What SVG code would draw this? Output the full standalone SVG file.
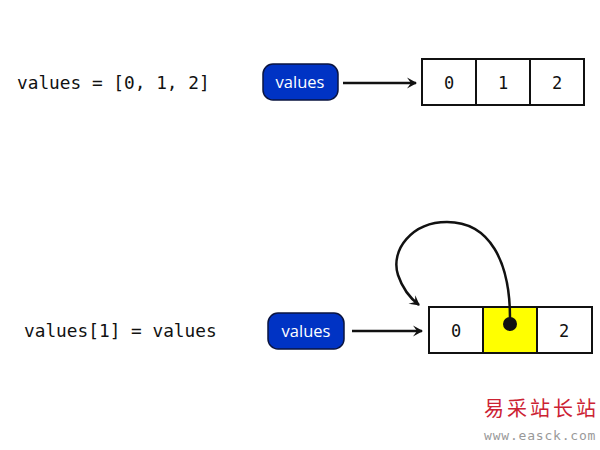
<svg xmlns="http://www.w3.org/2000/svg" width="600" height="450" viewBox="0 0 600 450">
<defs>
<marker id="ah" viewBox="0 0 12 12" refX="10" refY="6" markerWidth="12" markerHeight="12" markerUnits="userSpaceOnUse" orient="auto">
<path d="M1,0.5 L11,6 L1,11.5 L5,6 Z" fill="#111"/>
</marker>
<style>
.code{font-family:"DejaVu Sans Mono","Liberation Mono",monospace;font-size:17.8px;fill:#111}
.cell{font-family:"DejaVu Sans Mono","Liberation Mono",monospace;font-size:17px;fill:#111;text-anchor:middle}
.pill{fill:#0033c4;stroke:#0a1440;stroke-width:1.5}
.pt{font-family:"Open Sans","Noto Sans",sans-serif;font-size:16.5px;fill:#fff;text-anchor:middle}
.box{fill:#fff;stroke:#111;stroke-width:2}
.conn{fill:none;stroke:#111;stroke-width:2.5;marker-end:url(#ah)}
</style>
</defs>
<rect width="600" height="450" fill="#fff"/>
<text class="code" x="17" y="89">values = [0, 1, 2]</text>
<text class="code" x="24" y="337">values[1] = values</text>
<g id="var1">
<rect class="pill" x="263" y="64" width="75" height="36" rx="10"/>
<text class="pt" x="300" y="88">values</text>
</g>
<g id="list1">
<rect class="box" x="422" y="59" width="54" height="46"/>
<rect class="box" x="476" y="59" width="54" height="46"/>
<rect class="box" x="530" y="59" width="54" height="46"/>
<text class="cell" x="449" y="89">0</text>
<text class="cell" x="503" y="89">1</text>
<text class="cell" x="557" y="89">2</text>
</g>
<g id="var2">
<rect class="pill" x="268" y="313" width="76" height="36" rx="10"/>
<text class="pt" x="306" y="337">values</text>
</g>
<g id="list2">
<rect class="box" x="429" y="307" width="54" height="46"/>
<rect class="box" x="483" y="307" width="54" height="46" style="fill:#ffff00"/>
<rect class="box" x="537" y="307" width="55" height="46"/>
<text class="cell" x="456" y="337">0</text>
<text class="cell" x="564" y="337">2</text>
<circle cx="510" cy="324" r="7" fill="#111"/>
</g>
<g id="connectors">
<path class="conn" d="M343,83 L416,83"/>
<path class="conn" d="M352,331 L422,331"/>
<path class="conn" d="M510,318 C510,262 490,222 447,222 C412,222 390,250 398,275 C403,290 410,298 419,305"/>
</g>
<g id="watermark">
<text x="484" y="416" font-family="'Noto Sans CJK SC',sans-serif" font-size="20" letter-spacing="3" fill="#cc2233">易采站长站</text>
<text x="484" y="440" font-family="'DejaVu Sans Mono',monospace" font-size="13" letter-spacing="0.8" fill="#999">www.easck.com</text>
</g>
</svg>
